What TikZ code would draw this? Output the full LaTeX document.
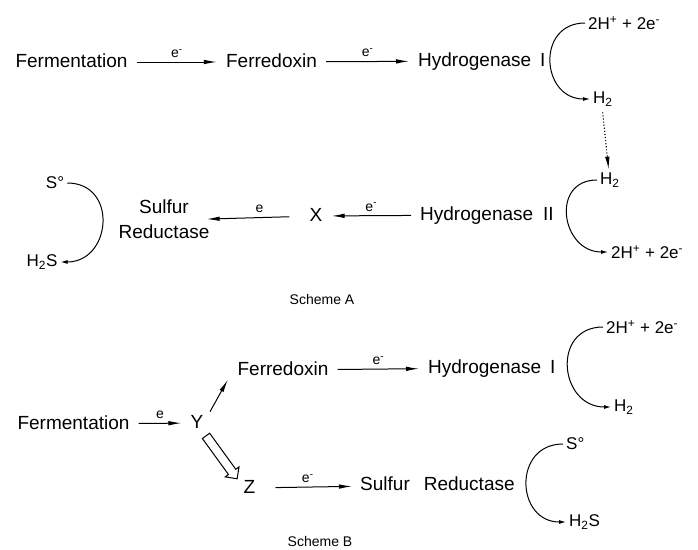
\documentclass[tikz,border=0pt]{standalone}
\usepackage{fontspec}
\setmainfont{Liberation Sans}
\usetikzlibrary{arrows.meta,shapes.arrows}
\tikzset{
	enz/.style={font=\fontsize{19}{25}\selectfont,inner sep=0pt,text height=14pt,text depth=3pt},
	spec/.style={font=\fontsize{17}{20}\selectfont,inner sep=0pt,anchor=west},
	elec/.style={font=\fontsize{14}{16}\selectfont,above=4pt,inner sep=0pt},
	flow/.style={->,line width=1pt,shorten <=9pt,shorten >=9pt},
	turn/.style={-{Latex[length=7pt,width=4pt]},line width=1pt,looseness=1.65},
	hollow/.style={single arrow,draw,line width=1pt,minimum height=53pt,inner sep=0pt,inner ysep=4pt,single arrow head extend=4pt},
	scheme/.style={font=\fontsize{14}{16}\selectfont}
}
\begin{document}
\begin{tikzpicture}[x=1pt,y=-1pt,>={Latex[length=13pt,width=4.5pt]}]
		\useasboundingbox (0,0) rectangle (698,549);
		
		\node[enz] (fermA) at (71.5,62) {Fermentation};
		\node[enz] (fdA) at (271.5,62) {Ferredoxin};
		\node[enz,anchor=west] (hydA) at (418,61) {Hydrogenase\hspace{9pt}I};
		\node[spec] (ionA) at (588,23) {2H\textsuperscript{+} + 2e\textsuperscript{-}};
		\node[spec] (hA) at (593,99) {H\textsubscript{2}};
		\node[spec] (hB) at (600,180) {H\textsubscript{2}};
		\node[spec] (ionB) at (611,252) {2H\textsuperscript{+} + 2e\textsuperscript{-}};
		\node[enz,anchor=west] (hydB) at (420,215) {Hydrogenase\hspace{10pt}II};
		\node[enz] (x) at (316,216) {X};
		\node[enz,align=center,text height=,text depth=] (srA) at (164,219) {Sulfur\\Reductase};
		\node[spec,anchor=center] (sA) at (55,183) {S\textdegree};
		\node[spec,anchor=center] (hsA) at (42,262) {H\textsubscript{2}S};
		\node[scheme] (schA) at (322,299) {Scheme A};
		
		\node[enz] (fermB) at (73.5,424) {Fermentation};
		\node[enz] (y) at (197,423) {Y};
		\node[enz] (fdB) at (283,370) {Ferredoxin};
		\node[enz,anchor=west] (hydC) at (428,368) {Hydrogenase\hspace{9pt}I};
		\node[spec] (ionC) at (606,327) {2H\textsuperscript{+} + 2e\textsuperscript{-}};
		\node[spec] (hC) at (614,407) {H\textsubscript{2}};
		\node[enz] (z) at (249.5,488) {Z};
		\node[enz,anchor=west] (srB) at (360,485) {Sulfur\hspace{14pt}Reductase};
		\node[spec] (sB) at (566,444) {S\textdegree};
		\node[spec] (hsB) at (569,522) {H\textsubscript{2}S};
		\node[scheme] (schB) at (320,541) {Scheme B};
		
		\draw[flow]
		(fermA)edge node[elec]{e\textsuperscript{-}}(fdA)
		(fdA)edge node[elec]{e\textsuperscript{-}}(hydA)
		(hydB)edge node[elec]{e\textsuperscript{-}}(x)
		(x)edge[shorten <=20pt,shorten >=-3pt]node[elec]{e}(srA.east)
		(fermB)edge node[elec]{e}(y)
		(fdB)edge node[elec]{e\textsuperscript{-}}(hydC)
		(z)edge[shorten <=20pt,shorten >=8pt]node[elec]{e\textsuperscript{-}}(srB);
		\draw[->,line width=1pt,shorten <=3pt,shorten >=1pt] ([xshift=5pt]y.north east)--([xshift=-9pt]fdB.south west);
		\path ([xshift=6pt]y.south)--node[sloped,hollow]{}([xshift=-6pt]z.north west);
		\draw[->,dotted,line width=1.1pt,shorten <=6pt,shorten >=3pt] ([xshift=9pt]hA.south west)--([xshift=9pt]hB.north west);
		
		\draw[turn] ([xshift=-3pt]ionA.west) to[out=180,in=180] ([xshift=-3pt]hA.west);
		\draw[turn] ([xshift=-3pt]hB.west) to[out=180,in=180] ([xshift=-3pt]ionB.west);
		\draw[turn] ([xshift=3pt]sA.east) to[out=0,in=0] ([xshift=3pt]hsA.east);
		\draw[turn] ([xshift=-3pt]ionC.west) to[out=180,in=180] ([xshift=-3pt]hC.west);
		\draw[turn] ([xshift=-3pt]sB.west) to[out=180,in=180] ([xshift=-3pt]hsB.west);
\end{tikzpicture}
\end{document}
